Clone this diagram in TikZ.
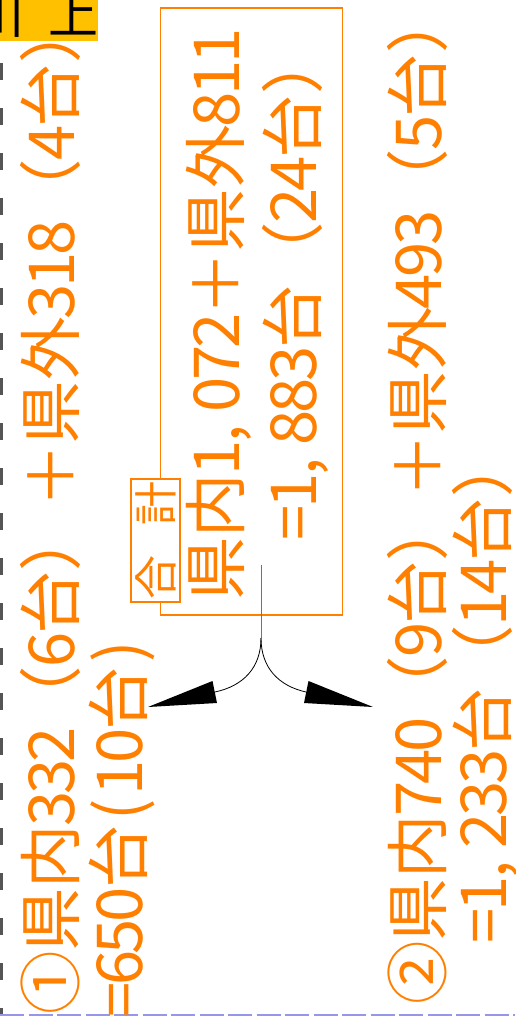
\documentclass[tikz,border=0pt]{standalone}
\usepackage{fontspec}
\newfontfamily\cjk{Noto Sans CJK JP}
\definecolor{org}{RGB}{255,128,0}
\definecolor{amber}{RGB}{255,192,0}
\definecolor{dashgray}{RGB}{85,85,85}
\definecolor{dashblue}{RGB}{150,150,235}
\newcommand{\hw}[1]{\makebox[.5em]{#1}}
\newcommand{\hwl}[1]{\makebox[.5em][l]{#1}}
\begin{document}
\begin{tikzpicture}[x=1pt,y=-1pt,
  col/.style={rotate=90, anchor=base west, inner sep=0pt, text=org,
    font=\cjk\fontsize{63.4}{63.4}\selectfont},
  sumbox/.style={rotate=90, draw=org, line width=1.2pt, fill=white, text=org,
    inner sep=0pt, minimum width=123pt, minimum height=49pt,
    font=\cjk\fontsize{44}{44}\selectfont},
  totalbox/.style={draw=org, line width=1.2pt, inner sep=0pt,
    minimum width=182pt, minimum height=607pt},
  stemline/.style={draw=black!55, line width=1pt},
  curveline/.style={draw=black, line width=0.8pt},
  headfill/.style={fill=black},
  tagtext/.style={anchor=base west, inner sep=0pt, text=black,
    font=\cjk\fontsize{50}{50}\selectfont}
]
\useasboundingbox (0,0) rectangle (515,1016);
% borders
\draw[dashgray, line width=2.6pt, dash pattern=on 17pt off 28pt] (1.3,63) -- (1.3,1016);
\draw[dashblue, line width=1.6pt, dash pattern=on 24pt off 4.5pt] (0,1015) -- (515,1015);
% tag top-left
\fill[amber] (0,0) rectangle (98,41);
\node[tagtext] (tag) at (-26,33.5) {川\hspace{24pt}上};
% total box
\node[totalbox] (total) at (251.5,311.5) {};
\node[col] (c3) at (239.1,601) {県内\hw1\hwl{,}\hw0\hw7\hw2＋県外\hw8\hw1\hw1};
\node[col] (c4) at (316.1,539) {\hw=\hw1\hwl{,}\hw8\hw8\hw3台（\hw2\hw4台\hwl{）}};
\node[sumbox] (sum) at (155.5,540.5) {合\hspace{30pt}計};
% left group
\node[col] (c1) at (74.1,1015) {①県内\hw3\hw3\hw2（\hw6台）＋県外\hw3\hw1\hw8（\hw4台\hwl{）}};
\node[col] (c2) at (142.1,1016) {\hw=\hw6\hw5\hw0台\hw(\hw1\hw0台\hw)};
% right group
\node[col] (c5) at (441.1,1005) {②県内\hw7\hw4\hw0（\hw9台）＋県外\hw4\hw9\hw3（\hw5台\hwl{）}};
\node[col] (c6) at (506.1,942) {\hw=\hw1\hwl{,}\hw2\hw3\hw3台（\hw1\hw4台\hwl{）}};
% connectors
\coordinate (stemtop) at (261,565);
\coordinate (split) at (261,638);
\coordinate (lbase) at (215,692);
\coordinate (lb1) at (212.5,681);
\coordinate (lb2) at (217,703);
\coordinate (ltip) at (148,707);
\coordinate (rbase) at (306,692);
\coordinate (rb1) at (308.5,681);
\coordinate (rb2) at (304,703);
\coordinate (rtip) at (373,707);
\draw[stemline] (stemtop) -- (split);
\draw[curveline] (split) .. controls (261,668) and (243,686) .. (lbase);
\draw[curveline] (split) .. controls (261,668) and (279,686) .. (rbase);
\fill[headfill] (lb1) -- (ltip) -- (lb2) -- cycle;
\fill[headfill] (rb1) -- (rtip) -- (rb2) -- cycle;
\end{tikzpicture}
\end{document}
